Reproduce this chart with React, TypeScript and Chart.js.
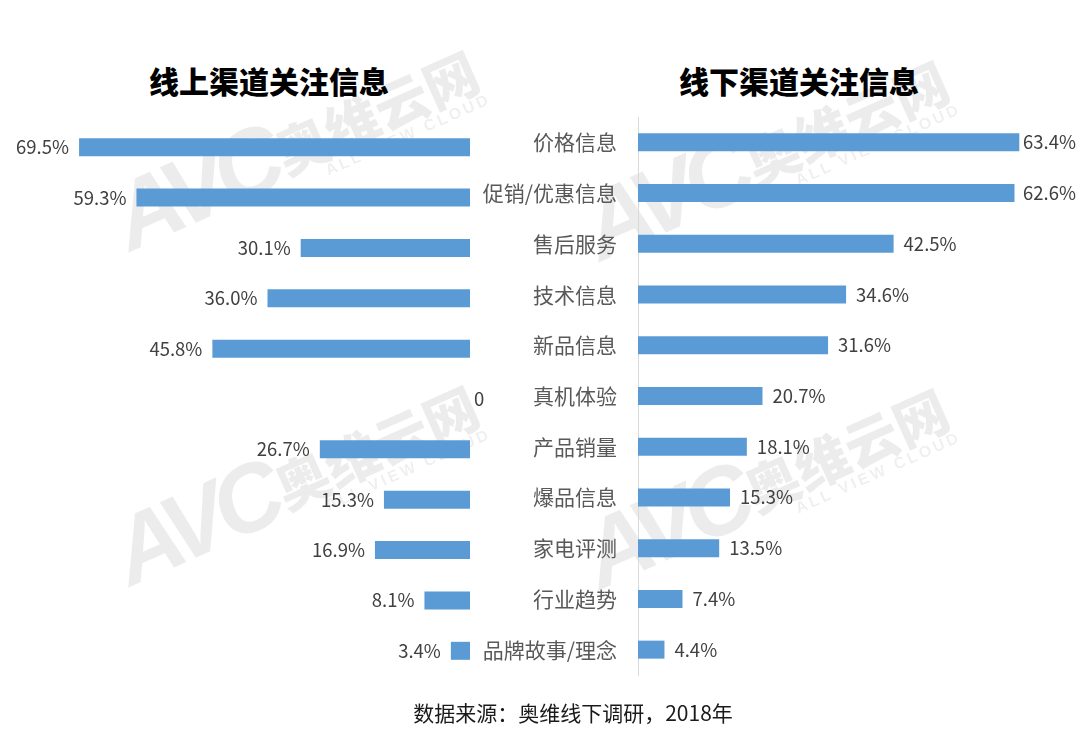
import React, { useEffect, useRef } from "react";
import { Chart, registerables } from "chart.js";

Chart.register(...registerables);

const categories = ["价格信息", "促销/优惠信息", "售后服务", "技术信息", "新品信息", "真机体验", "产品销量", "爆品信息", "家电评测", "行业趋势", "品牌故事/理念"];
const onlineValues = [69.5, 59.3, 30.1, 36.0, 45.8, 0, 26.7, 15.3, 16.9, 8.1, 3.4];
const offlineValues = [63.4, 62.6, 42.5, 34.6, 31.6, 20.7, 18.1, 15.3, 13.5, 7.4, 4.4];
const onlineTitle = "线上渠道关注信息";
const offlineTitle = "线下渠道关注信息";
const sourceNote = "数据来源：奥维线下调研，2018年";

const BAR = "#5b9bd5";
const FONT = "'Noto Sans CJK SC', 'Noto Sans', sans-serif";

const fmt = (v: number) => (v === 0 ? "0" : v.toFixed(1) + "%");

const labelPlugin = (side: "left" | "right") => ({
  id: "valueLabels" + side,
  afterDatasetsDraw(chart: any) {
    const ctx = chart.ctx;
    const meta = chart.getDatasetMeta(0);
    const data = chart.data.datasets[0].data as number[];
    ctx.save();
    ctx.font = `18.5px ${FONT}`;
    ctx.fillStyle = "#404040";
    ctx.textBaseline = "middle";
    meta.data.forEach((bar: any, i: number) => {
      const v = data[i];
      const t = fmt(v);
      if (side === "left") {
        if (v === 0) {
          ctx.textAlign = "left";
          ctx.fillText(t, bar.x + 4, bar.y);
        } else {
          ctx.textAlign = "right";
          ctx.fillText(t, bar.x - 10, bar.y);
        }
      } else {
        const w = ctx.measureText(t).width;
        let x = bar.x + 10;
        if (x + w > chart.width - 4) x = chart.width - 4 - w;
        ctx.textAlign = "left";
        ctx.fillText(t, x, bar.y);
      }
    });
    ctx.restore();
  },
});

function LeftChart() {
  const ref = useRef<HTMLCanvasElement>(null);
  useEffect(() => {
    const chart = new Chart(ref.current!, {
      type: "bar",
      data: {
        labels: categories,
        datasets: [{ data: onlineValues, backgroundColor: BAR, barThickness: 18, inflateAmount: 0 }],
      },
      options: {
        indexAxis: "y",
        animation: false,
        responsive: false,
        layout: { padding: { left: 20, right: 30, top: 122, bottom: 61 } },
        plugins: { legend: { display: false }, tooltip: { enabled: false } },
        scales: {
          x: { display: false, reverse: true, min: 0, max: 80 },
          y: { display: false },
        },
      },
      plugins: [labelPlugin("left")],
    });
    return () => chart.destroy();
  }, []);
  return <canvas ref={ref} width={500} height={737} style={{ position: "absolute", left: 0, top: 0 }} />;
}

function RightChart() {
  const ref = useRef<HTMLCanvasElement>(null);
  useEffect(() => {
    const chart = new Chart(ref.current!, {
      type: "bar",
      data: {
        labels: categories,
        datasets: [{ data: offlineValues, backgroundColor: BAR, barThickness: 18, inflateAmount: 0 }],
      },
      options: {
        indexAxis: "y",
        animation: false,
        responsive: false,
        layout: { padding: { left: 0, right: 21, top: 117, bottom: 62 } },
        plugins: { legend: { display: false }, tooltip: { enabled: false } },
        scales: {
          x: { display: false, min: 0, max: 70 },
          y: {
            display: true,
            grid: { display: false, drawTicks: false },
            border: { display: true, color: "#d9d9d9", width: 1 },
            ticks: { color: "#595959", font: { family: FONT, size: 21 }, padding: 21, autoSkip: false },
            afterFit(scale: any) {
              scale.width = 158;
            },
          },
        },
      },
      plugins: [labelPlugin("right")],
    });
    return () => chart.destroy();
  }, []);
  return <canvas ref={ref} width={600} height={737} style={{ position: "absolute", left: 480, top: 0 }} />;
}

function Watermark({ x, y }: { x: number; y: number }) {
  const color = "rgba(0,0,0,0.075)";
  return (
    <div
      style={{
        position: "absolute",
        left: x,
        top: y,
        width: 0,
        height: 0,
        transform: "rotate(-24deg)",
        transformOrigin: "0 0",
        color,
        whiteSpace: "nowrap",
        pointerEvents: "none",
      }}
    >
      <span
        style={{
          position: "absolute",
          left: 0,
          bottom: -15,
          fontFamily: "'Liberation Sans', sans-serif",
          fontWeight: 900,
          fontStyle: "italic",
          fontSize: 95,
          lineHeight: "95px",
          letterSpacing: -8,
        }}
      >
        AVC
      </span>
      <span
        style={{
          position: "absolute",
          left: 174,
          bottom: 2,
          fontFamily: FONT,
          fontWeight: 900,
          fontSize: 54,
          lineHeight: "54px",
        }}
      >
        奥维云网
      </span>
      <span
        style={{
          position: "absolute",
          left: 212,
          top: -2,
          fontFamily: "'Liberation Sans', sans-serif",
          fontWeight: 700,
          fontSize: 16,
          letterSpacing: 3,
          lineHeight: "16px",
        }}
      >
        ALL VIEW CLOUD
      </span>
    </div>
  );
}

export default function App() {
  useEffect(() => {
    document.body.style.margin = "0";
  }, []);
  return (
    <div style={{ position: "relative", width: 1080, height: 737, background: "#fff", overflow: "hidden", fontFamily: FONT }}>
      <Watermark x={130} y={252} />
      <Watermark x={600} y={262} />
      <Watermark x={130} y={587} />
      <Watermark x={600} y={590} />
      <div
        style={{
          position: "absolute",
          left: 269 - 200,
          width: 400,
          top: 60,
          textAlign: "center",
          fontSize: 30,
          fontWeight: 900,
          color: "#000",
          lineHeight: "40px",
        }}
      >
        {onlineTitle}
      </div>
      <div
        style={{
          position: "absolute",
          left: 799 - 200,
          width: 400,
          top: 60,
          textAlign: "center",
          fontSize: 30,
          fontWeight: 900,
          color: "#000",
          lineHeight: "40px",
        }}
      >
        {offlineTitle}
      </div>
      <LeftChart />
      <RightChart />
      <div
        style={{
          position: "absolute",
          left: 573 - 250,
          width: 500,
          top: 697,
          textAlign: "center",
          fontSize: 21,
          color: "#1a1a1a",
          lineHeight: "30px",
        }}
      >
        {sourceNote}
      </div>
    </div>
  );
}
